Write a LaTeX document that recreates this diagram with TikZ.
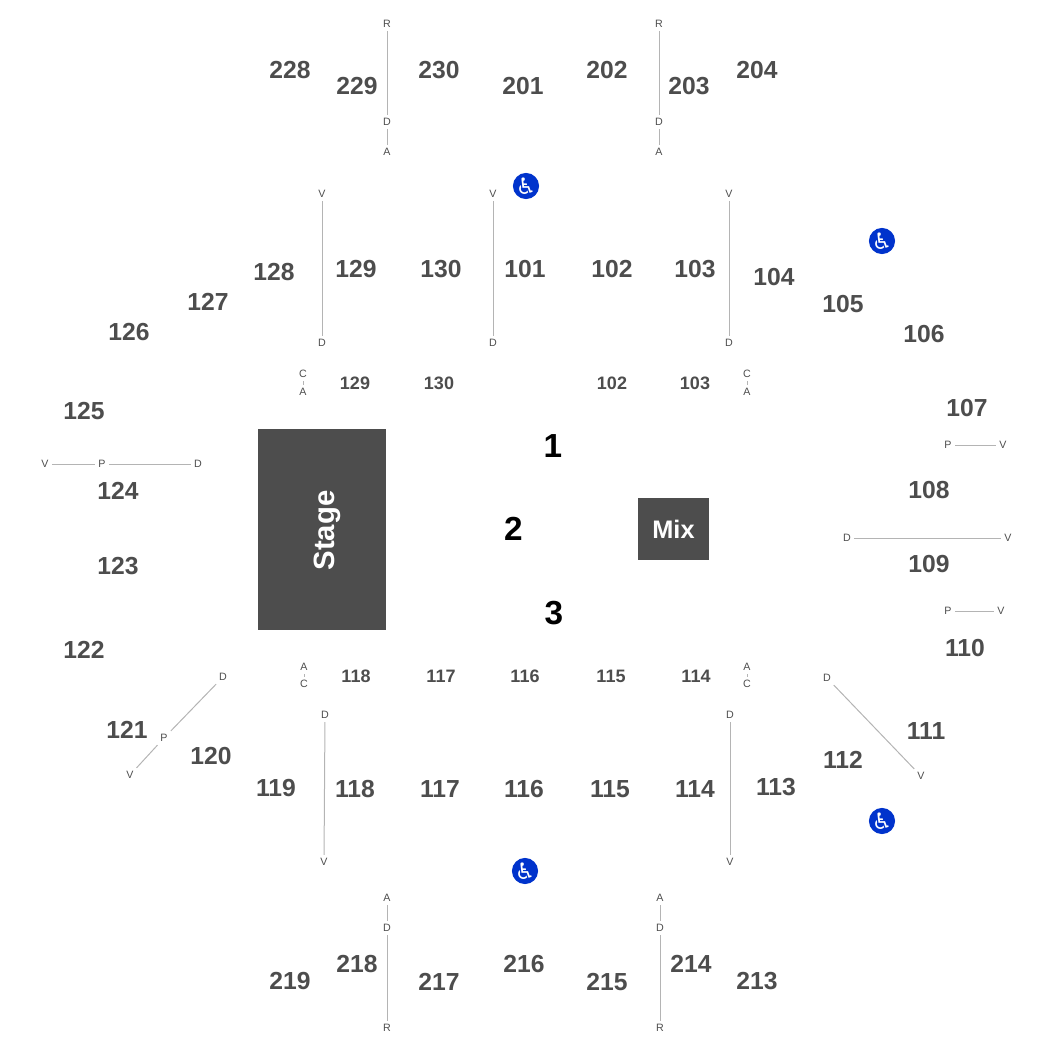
\documentclass[tikz,border=0pt]{standalone}
\usepackage{fontspec}
\setmainfont{Liberation Sans}
\newfontfamily\symfont{DejaVu Sans}
\definecolor{seatgray}{HTML}{4D4D4D}
\definecolor{aislegray}{HTML}{B4B4B4}
\definecolor{accessblue}{HTML}{0033CC}
\tikzset{
  every picture/.style={line width=0.75pt},
  sec/.style={text=seatgray,inner sep=0.75pt,font=\fontsize{18.5}{20}\selectfont\bfseries},
  low/.style={text=seatgray,inner sep=0.75pt,font=\fontsize{13.5}{15}\selectfont\bfseries},
  tag/.style={text=seatgray,inner sep=2.2pt,font=\fontsize{8}{9}\selectfont},
  aisle/.style={draw=aislegray,line width=0.75pt},
  block/.style={fill=seatgray,text=white,inner sep=0pt,font=\bfseries},
  riser/.style={text=black,inner sep=0.75pt,font=\fontsize{25}{27}\selectfont\bfseries},
  access/.style={circle,fill=accessblue,text=white,inner sep=0pt,minimum size=19.5pt,font=\symfont\fontsize{17}{18}\selectfont}
}
\begin{document}
\begin{tikzpicture}[x=0.75pt,y=0.75pt,yscale=-1,xscale=1]
\useasboundingbox (0,0) rectangle (1050,1050);

% Upper ring
\node[sec] (s228) at (290,70) {228};
\node[sec] (s229) at (357,86) {229};
\node[sec] (s230) at (439,70) {230};
\node[sec] (s201) at (523,86) {201};
\node[sec] (s202) at (607,70) {202};
\node[sec] (s203) at (689,86) {203};
\node[sec] (s204) at (757,70) {204};
\node[sec] (s219) at (290,981) {219};
\node[sec] (s218) at (357,964) {218};
\node[sec] (s217) at (439,982) {217};
\node[sec] (s216) at (524,964) {216};
\node[sec] (s215) at (607,982) {215};
\node[sec] (s214) at (691,964) {214};
\node[sec] (s213) at (757,981) {213};

% Lower ring
\node[sec] (s128) at (274,272) {128};
\node[sec] (s129) at (356,269) {129};
\node[sec] (s130) at (441,269) {130};
\node[sec] (s101) at (525,269) {101};
\node[sec] (s102) at (612,269) {102};
\node[sec] (s103) at (695,269) {103};
\node[sec] (s104) at (774,277) {104};
\node[sec] (s105) at (843,304) {105};
\node[sec] (s106) at (924,334) {106};
\node[sec] (s107) at (967,408) {107};
\node[sec] (s108) at (929,490) {108};
\node[sec] (s109) at (929,564) {109};
\node[sec] (s110) at (965,648) {110};
\node[sec] (s111) at (926,731) {111};
\node[sec] (s112) at (843,760) {112};
\node[sec] (s113) at (776,787) {113};
\node[sec] (s114) at (695,789) {114};
\node[sec] (s115) at (610,789) {115};
\node[sec] (s116) at (524,789) {116};
\node[sec] (s117) at (440,789) {117};
\node[sec] (s118) at (355,789) {118};
\node[sec] (s119) at (276,788) {119};
\node[sec] (s120) at (211,756) {120};
\node[sec] (s121) at (127,730) {121};
\node[sec] (s122) at (84,650) {122};
\node[sec] (s123) at (118,566) {123};
\node[sec] (s124) at (118,491) {124};
\node[sec] (s125) at (84,411) {125};
\node[sec] (s126) at (129,332) {126};
\node[sec] (s127) at (208,302) {127};

% Floor rows
\node[low] (f129) at (355,383) {129};
\node[low] (f130) at (439,383) {130};
\node[low] (f102) at (612,383) {102};
\node[low] (f103) at (695,383) {103};
\node[low] (f118) at (356,676) {118};
\node[low] (f117) at (441,676) {117};
\node[low] (f116) at (525,676) {116};
\node[low] (f115) at (611,676) {115};
\node[low] (f114) at (696,676) {114};

% Stage, mix, risers
\node[block,minimum width=96pt,minimum height=150.75pt,anchor=north west] (stage) at (257.5,428.5) {};
\node[text=white,inner sep=0pt,rotate=90,font=\fontsize{22}{24}\selectfont\bfseries] (stagename) at (327,530.5) {Stage};
\node[block,minimum width=53.25pt,minimum height=46.5pt,anchor=north west,font=\fontsize{19}{21}\selectfont\bfseries] (mix) at (637.5,497.5) {Mix};
\node[riser] (r1) at (553,446) {1};
\node[riser] (r2) at (513.5,529) {2};
\node[riser] (r3) at (554,613) {3};

% Accessible seating
\node[access] (wc1) at (526,186) {♿};
\node[access] (wc2) at (882,241) {♿};
\node[access] (wc3) at (525,871) {♿};
\node[access] (wc4) at (882,821) {♿};

% Aisle tags
\node[tag] (ra) at (387,24) {R};
\node[tag] (da) at (387,122) {D};
\node[tag] (aa) at (387,152) {A};
\node[tag] (rb) at (659,24) {R};
\node[tag] (db) at (659,122) {D};
\node[tag] (ab) at (659,152) {A};
\node[tag] (vc) at (322,194) {V};
\node[tag] (dc) at (322,343) {D};
\node[tag] (vd) at (493,194) {V};
\node[tag] (dd) at (493,343) {D};
\node[tag] (ve) at (729,194) {V};
\node[tag] (de) at (729,343) {D};
\node[tag] (cf) at (303,374) {C};
\node[tag] (af) at (303,392) {A};
\node[tag] (cg) at (747,374) {C};
\node[tag] (ag) at (747,392) {A};
\node[tag] (vh) at (45,464) {V};
\node[tag] (ph) at (102,464) {P};
\node[tag] (dh) at (198,464) {D};
\node[tag] (dj) at (847,538) {D};
\node[tag] (vj) at (1008,538) {V};
\node[tag] (pk) at (948,445) {P};
\node[tag] (vk) at (1003,445) {V};
\node[tag] (pl) at (948,611) {P};
\node[tag] (vl) at (1001,611) {V};
\node[tag] (am) at (304,667) {A};
\node[tag] (cm) at (304,684) {C};
\node[tag] (an) at (747,667) {A};
\node[tag] (cn) at (747,684) {C};
\node[tag] (do) at (223,677) {D};
\node[tag] (po) at (164,738) {P};
\node[tag] (vo) at (130,775) {V};
\node[tag] (dq) at (325,715) {D};
\node[tag] (vq) at (324,862) {V};
\node[tag] (ds) at (730,715) {D};
\node[tag] (vs) at (730,862) {V};
\node[tag] (dt) at (827,678) {D};
\node[tag] (vt) at (921,776) {V};
\node[tag] (au) at (387,898) {A};
\node[tag] (du) at (387,928) {D};
\node[tag] (ru) at (387,1028) {R};
\node[tag] (aw) at (660,898) {A};
\node[tag] (dw) at (660,928) {D};
\node[tag] (rw) at (660,1028) {R};

% Aisle lines
\draw[aisle] (ra) -- (da);
\draw[aisle] (da) -- (aa);
\draw[aisle] (rb) -- (db);
\draw[aisle] (db) -- (ab);
\draw[aisle] (vc) -- (dc);
\draw[aisle] (vd) -- (dd);
\draw[aisle] (ve) -- (de);
\draw[aisle] (cf) -- (af);
\draw[aisle] (cg) -- (ag);
\draw[aisle] (vh) -- (ph);
\draw[aisle] (ph) -- (dh);
\draw[aisle] (dj) -- (vj);
\draw[aisle] (pk) -- (vk);
\draw[aisle] (pl) -- (vl);
\draw[aisle] (am) -- (cm);
\draw[aisle] (an) -- (cn);
\draw[aisle] (do) -- (po);
\draw[aisle] (po) -- (vo);
\draw[aisle] (dq) -- (vq);
\draw[aisle] (ds) -- (vs);
\draw[aisle] (dt) -- (vt);
\draw[aisle] (au) -- (du);
\draw[aisle] (du) -- (ru);
\draw[aisle] (aw) -- (dw);
\draw[aisle] (dw) -- (rw);

\end{tikzpicture}
\end{document}
